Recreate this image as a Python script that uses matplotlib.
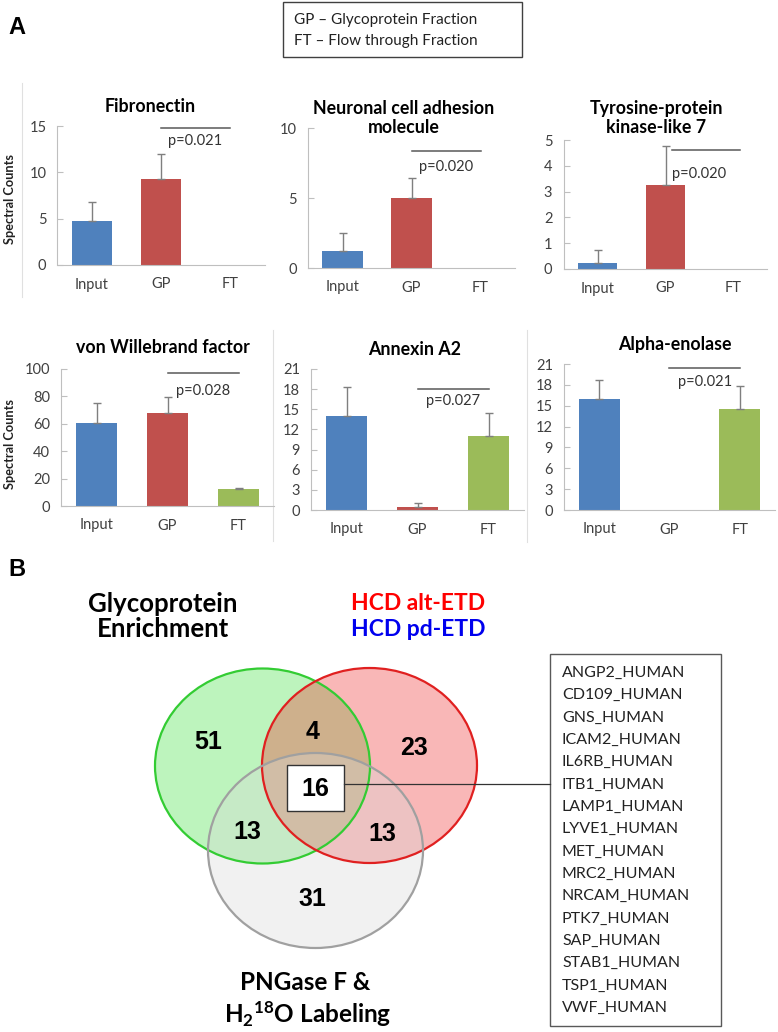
import matplotlib
matplotlib.use('Agg')
import matplotlib.pyplot as plt
from matplotlib.patches import Ellipse, Rectangle
import numpy as np

plt.rcParams['font.family'] = ['Lato', 'DejaVu Sans']
plt.rcParams['mathtext.fontset'] = 'custom'
plt.rcParams['mathtext.rm'] = 'Lato:bold'
plt.rcParams['mathtext.it'] = 'Lato:bold'
plt.rcParams['mathtext.bf'] = 'Lato:bold'

# ---- data: panel A ----
categories = ['Input', 'GP', 'FT']
proteins = ['Fibronectin', 'Neuronal cell adhesion\nmolecule', 'Tyrosine-protein\nkinase-like 7',
            'von Willebrand factor', 'Annexin A2', 'Alpha-enolase']
means = [[4.8, 9.3, 0], [1.25, 5.0, 0], [0.25, 3.25, 0],
         [60.5, 68, 12.5], [14, 0.5, 11], [16, 0, 14.5]]
err_up = [[2.0, 2.7, 0], [1.25, 1.4, 0], [0.5, 1.5, 0],
          [14.5, 11.5, 1.0], [4.3, 0.6, 3.4], [2.7, 0, 3.4]]
p_values = ['p=0.021', 'p=0.020', 'p=0.020', 'p=0.028', 'p=0.027', 'p=0.021']
y_max = [15, 10, 5, 100, 21, 21]
y_step = [5, 5, 1, 20, 3, 3]
bracket_y = [14.8, 8.35, 4.6, 97, 18.0, 20.4]
bracket_shift = [0, 0, 0.1, 0, 0, 0]
ptext_y = [13.4, 7.2, 3.7, 84, 16.2, 18.4]

# ---- data: panel B ----
venn_labels = ['51', '4', '23', '13', '13', '31']
shared_count = '16'
shared_proteins = ['ANGP2_HUMAN', 'CD109_HUMAN', 'GNS_HUMAN', 'ICAM2_HUMAN', 'IL6RB_HUMAN',
                   'ITB1_HUMAN', 'LAMP1_HUMAN', 'LYVE1_HUMAN', 'MET_HUMAN', 'MRC2_HUMAN',
                   'NRCAM_HUMAN', 'PTK7_HUMAN', 'SAP_HUMAN', 'STAB1_HUMAN', 'TSP1_HUMAN',
                   'VWF_HUMAN']

bar_colors = ['#4f81bd', '#c0504d', '#9bbb59']

W, H = 778, 1032
fig = plt.figure(figsize=(W / 100, H / 100), dpi=100)

# background axes in pixel coordinates (y down)
bg = fig.add_axes([0, 0, 1, 1])
bg.set_xlim(0, W)
bg.set_ylim(H, 0)
bg.axis('off')


def px_axes(left, top, right, bottom):
    return fig.add_axes([left / W, 1 - bottom / H, (right - left) / W, (bottom - top) / H])


# plot area boxes (left, top, right, bottom) in pixels
boxes = [(57.5, 126, 264.5, 265), (308, 128, 515, 268), (563.5, 140, 767.5, 269),
         (61, 369, 274, 506), (311, 369, 524, 510), (564, 364, 775, 510)]
title_pos = [(150, 107), (404, 118), (656, 118), (163, 348), (415, 350), (675, 345)]

x = np.arange(len(categories))
for i in range(6):
    ax = px_axes(*boxes[i])
    ax.bar(x, means[i], width=0.58, color=bar_colors)
    m = np.array(means[i])
    e = np.array(err_up[i])
    keep = (m > 0) | (e > 0)
    ax.errorbar(x[keep], m[keep], yerr=[np.zeros(keep.sum()), e[keep]], fmt='none',
                ecolor='#7f7f7f', elinewidth=1, capsize=3, capthick=1)
    sh = bracket_shift[i]
    ax.plot([1 + sh, 2 + sh], [bracket_y[i]] * 2, color='#595959', lw=1.1, clip_on=False)
    ax.text(1.5, ptext_y[i], p_values[i], ha='center', va='center', fontsize=10.5, color='#333333')
    ax.set_xlim(-0.5, 2.5)
    ax.set_ylim(0, y_max[i])
    ax.set_yticks(np.arange(0, y_max[i] + 0.01, y_step[i]))
    ax.set_xticks(x)
    ax.set_xticklabels(categories)
    for s in ['top', 'right']:
        ax.spines[s].set_visible(False)
    for s in ['left', 'bottom']:
        ax.spines[s].set_color('#bfbfbf')
    ax.tick_params(axis='y', direction='in', length=4, color='#bfbfbf', labelsize=10.5,
                   labelcolor='#404040', pad=8)
    ax.tick_params(axis='x', length=0, labelsize=10.5, labelcolor='#404040', pad=9)
    ax.patch.set_alpha(0)
    tx, ty = title_pos[i]
    fig.text(tx / W, 1 - ty / H, proteins[i], ha='center', va='center', fontsize=12.8,
             fontweight='bold', linespacing=1.2)

for yc in [199, 444]:
    fig.text(10 / W, 1 - yc / H, 'Spectral Counts', rotation=90, ha='center', va='center',
             fontsize=9.2, fontweight='bold', color='#222222')

# faint chart-area borders
bg.plot([22, 22], [83, 297], color='#e0e0e0', lw=0.8)
bg.plot([273, 273], [330, 541], color='#e0e0e0', lw=0.8)
bg.plot([527, 527], [330, 542], color='#e0e0e0', lw=0.8)

# panel letters and legend box
bg.text(8, 27, 'A', fontsize=17, fontweight='bold', va='center', family=['Liberation Sans'])
bg.text(8, 569, 'B', fontsize=17, fontweight='bold', va='center', family=['Liberation Sans'])
bg.add_patch(Rectangle((283, 2), 239, 55, fill=False, edgecolor='#404040', lw=1))
bg.text(294, 20, 'GP – Glycoprotein Fraction', fontsize=11, va='center', color='#222222')
bg.text(294, 41, 'FT – Flow through Fraction', fontsize=11, va='center', color='#222222')

# ---- Venn diagram ----
circles = [((262.5, 766), '#33dd33', '#33cc33', 0.32),
           ((369.5, 765.5), '#ee3333', '#e02020', 0.35),
           ((315.5, 850.5), '#d8d8d8', '#a0a0a0', 0.35)]
for (cx, cy), fc, ec, a in circles:
    bg.add_patch(Ellipse((cx, cy), 215, 195, facecolor=fc, alpha=a, edgecolor='none'))
for (cx, cy), fc, ec, a in circles:
    bg.add_patch(Ellipse((cx, cy), 215, 195, fill=False, edgecolor=ec, lw=1.6))

venn_pos = [(208, 742), (313, 732), (414, 748), (247, 832), (382, 834), (312, 899)]
for lab, (vx, vy) in zip(venn_labels, venn_pos):
    bg.text(vx, vy, lab, ha='center', va='center', fontsize=18, fontweight='bold',
            family=['Liberation Sans'])

bg.add_patch(Rectangle((287, 765), 57, 46, facecolor='white', edgecolor='#333333', lw=1))
bg.text(315.5, 789, shared_count, ha='center', va='center', fontsize=18, fontweight='bold',
        family=['Liberation Sans'])
bg.plot([344, 550], [784, 784], color='#333333', lw=0.9)

bg.add_patch(Rectangle((550, 654), 171, 372, fill=False, edgecolor='#595959', lw=1))
for j, name in enumerate(shared_proteins):
    bg.text(562, 673 + j * 22.33, name, va='center', fontsize=11.5, color='#222222')

bg.text(163, 604, 'Glycoprotein', ha='center', va='center', fontsize=18.5, fontweight='bold')
bg.text(163, 629, 'Enrichment', ha='center', va='center', fontsize=18.5, fontweight='bold')
bg.text(418, 604, 'HCD alt-ETD', ha='center', va='center', fontsize=16.5, fontweight='bold',
        color='#ff0000')
bg.text(418, 629, 'HCD pd-ETD', ha='center', va='center', fontsize=16.5, fontweight='bold',
        color='#0000ee')
bg.text(305, 983, 'PNGase F &', ha='center', va='center', fontsize=17.5, fontweight='bold')
bg.text(308, 1014, r'H$_2$$^{18}$O Labeling', ha='center', va='center', fontsize=17.5,
        fontweight='bold')

fig.savefig('out.png', dpi=100)
